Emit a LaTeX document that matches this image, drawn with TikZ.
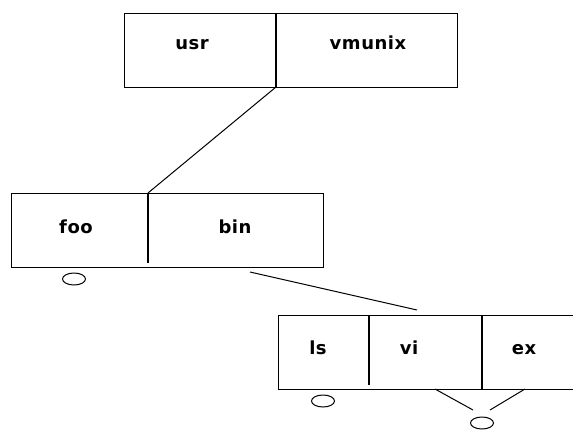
\documentclass[tikz,border=0pt]{standalone}
\usepackage{fontspec}
\setmainfont{DejaVu Sans}[LetterSpace=3]
\usetikzlibrary{shapes.geometric}
\begin{document}
\begin{tikzpicture}[x=1pt,y=-1pt,
  box/.style={draw, line width=1.3pt, rectangle, inner sep=0pt, anchor=north west},
  divider/.style={line width=1.3pt},
  link/.style={line width=1pt},
  lbl/.style={font=\fontsize{18}{18}\selectfont\bfseries, anchor=base, inner sep=0pt},
  ring/.style={draw, ellipse, minimum width=23pt, minimum height=12pt, inner sep=0pt, line width=1pt}]
\useasboundingbox (0,0) rectangle (573,431);
% boxes
\node[box, minimum width=333pt, minimum height=74pt] (topbox) at (124,13) {};
\node[box, minimum width=312pt, minimum height=74pt] (midbox) at (11,193) {};
\node[box, minimum width=300pt, minimum height=74pt] (botbox) at (278,315) {};
% dividers
\coordinate (d1t) at (276,13);  \coordinate (d1b) at (276,87);
\coordinate (d2t) at (148,193); \coordinate (d2b) at (148,263);
\coordinate (d3t) at (369,315); \coordinate (d3b) at (369,385);
\coordinate (d4t) at (482,315); \coordinate (d4b) at (482,389);
\draw[divider] (d1t) -- (d1b);
\draw[divider] (d2t) -- (d2b);
\draw[divider] (d3t) -- (d3b);
\draw[divider] (d4t) -- (d4b);
% labels
\node[lbl] (usr) at (192,49) {usr};
\node[lbl] (vmunix) at (368,49) {vmunix};
\node[lbl] (foo) at (76,233) {foo};
\node[lbl] (bin) at (235,233) {bin};
\node[lbl] (ls) at (318,354) {ls};
\node[lbl] (vi) at (409,354) {vi};
\node[lbl] (ex) at (524,354) {ex};
% rings
\node[ring] (r1) at (74,279) {};
\node[ring] (r2) at (323,401) {};
\node[ring] (r3) at (482,423) {};
% links
\coordinate (b1) at (250,272); \coordinate (b2) at (417,310);
\coordinate (v1) at (435,389); \coordinate (v2) at (473,410);
\coordinate (e1) at (525,389); \coordinate (e2) at (490,410);
\draw[link] (d1b) -- (d2t);
\draw[link] (b1) -- (b2);
\draw[link] (v1) -- (v2);
\draw[link] (e1) -- (e2);
\end{tikzpicture}
\end{document}
